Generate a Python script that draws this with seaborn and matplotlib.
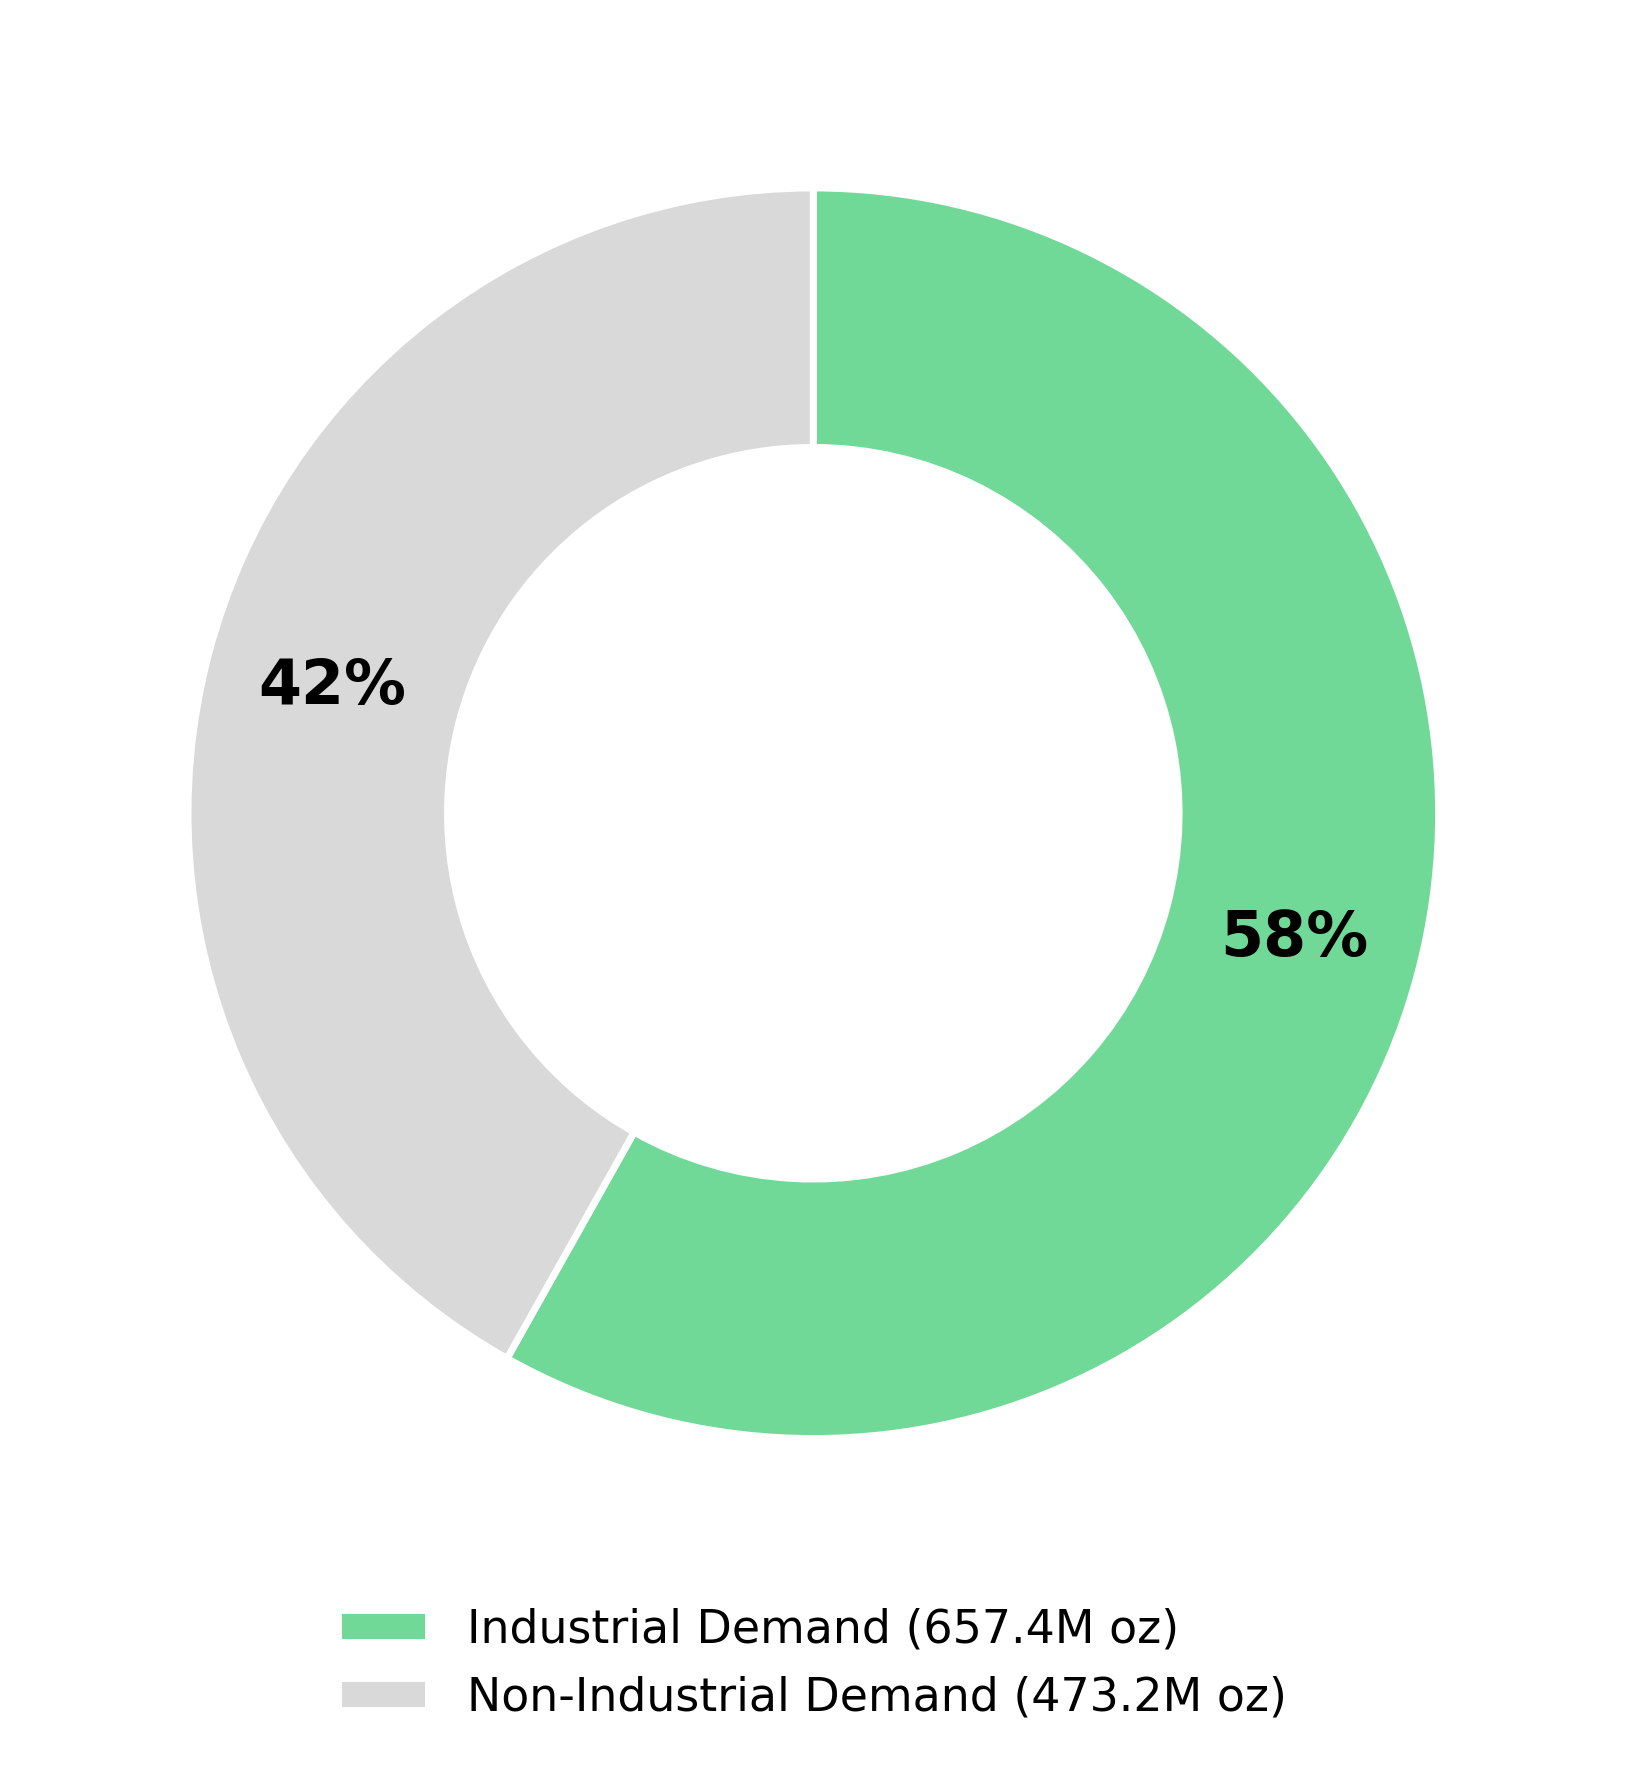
import matplotlib
matplotlib.use('Agg')
import matplotlib.pyplot as plt
import seaborn as sns

# silver demand split (million oz)
categories = ['Industrial Demand', 'Non-Industrial Demand']
values = [657.4, 473.2]
colors = ['#71D998', '#D9D9D9']

sns.set_theme(style='white')
plt.rcParams['font.family'] = ['DejaVu Sans']
plt.rcParams['text.color'] = 'black'

fig = plt.figure(figsize=(8.125, 8.83), dpi=200)
ax = fig.add_axes([0.0195, 0.0965, 0.962, 0.886])

wedges, texts, autotexts = ax.pie(
    values, colors=colors, startangle=90, counterclock=False,
    autopct='%1.0f%%', pctdistance=0.795,
    wedgeprops=dict(width=0.415, edgecolor='white', linewidth=2.5),
    textprops=dict(fontsize=22.3, fontweight='bold', color='black'))
ax.set_aspect('equal')

labels = [f'{c} ({v:.1f}M oz)' for c, v in zip(categories, values)]
leg = fig.legend(wedges, labels, loc='center', bbox_to_anchor=(0.5, 0.0578),
                 frameon=False, fontsize=16.5, handlelength=1.95,
                 handletextpad=0.85)
for t in leg.get_texts():
    t.set_color('black')

fig.savefig('out.png', dpi=200, facecolor='white')
